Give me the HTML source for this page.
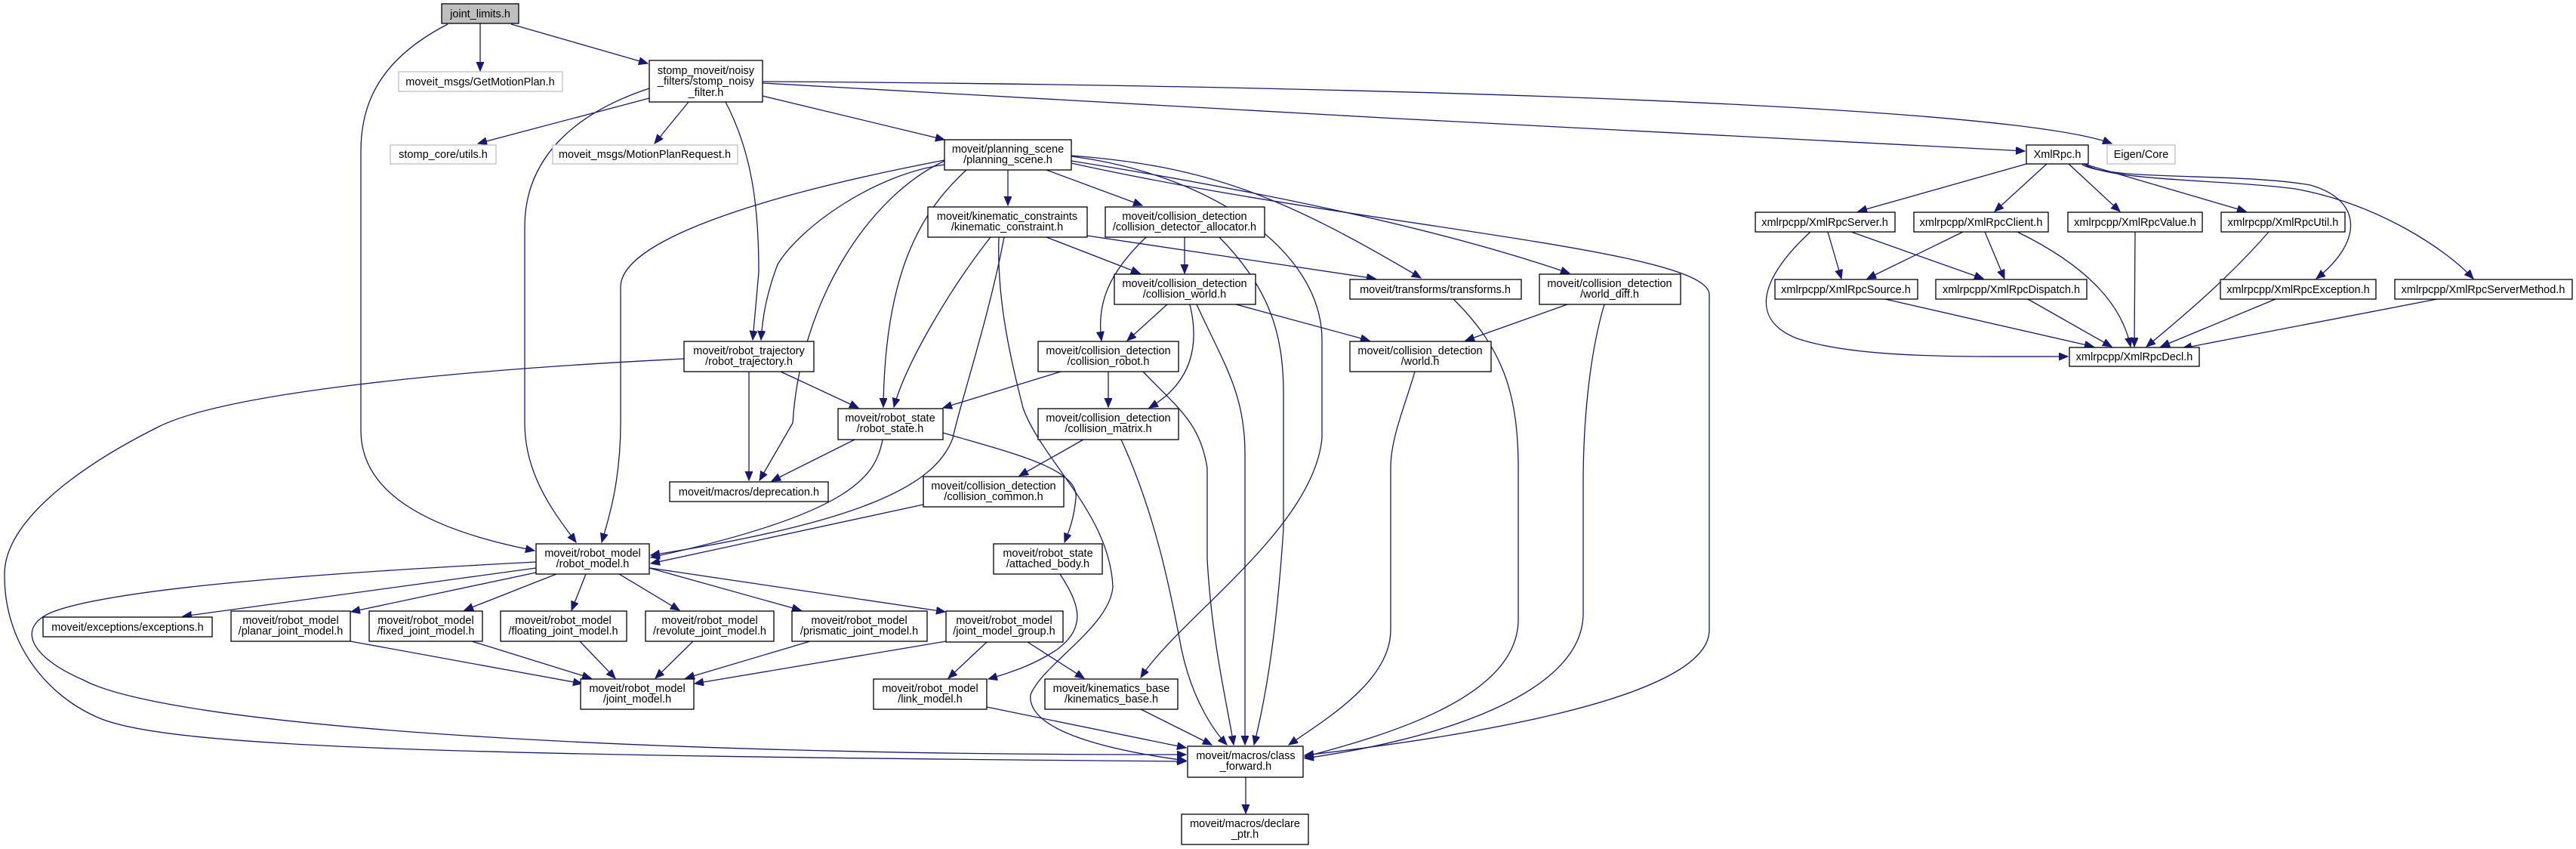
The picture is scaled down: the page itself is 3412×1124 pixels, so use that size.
<!DOCTYPE html>
<html><head><meta charset="utf-8"><style>
html,body{margin:0;padding:0;background:#fff;}
svg{display:block;}
text{font-family:"Liberation Sans",sans-serif;font-size:14.5px;fill:#000;text-anchor:middle;}
.e{fill:none;stroke:#191970;stroke-width:1.3;marker-end:url(#a);}
.n{fill:#fff;stroke:#000;stroke-width:1.3;}
.g{fill:#fff;stroke:#bfbfbf;stroke-width:1.3;}
</style></head><body>
<svg width="3412" height="1124" viewBox="0 0 3412 1124" xmlns="http://www.w3.org/2000/svg">
<defs><marker id="a" markerUnits="userSpaceOnUse" markerWidth="14" markerHeight="12" refX="12" refY="5" orient="auto"><path d="M0,0 L12,5 L0,10 Z" fill="#191970" stroke="#191970"/></marker></defs>
<g>
<path class="e" d="M636,31 L636,94"/>
<path class="e" d="M677,32 L858,84"/>
<path class="e" d="M593,32 C500,80 478,140 478,200 L478,570 C478,650 560,700 708,729"/>
<path class="e" d="M860,130 L633,190"/>
<path class="e" d="M912,135 L867,190"/>
<path class="e" d="M961,135 C995,200 1005,270 1005,360 L997,450"/>
<path class="e" d="M860,117 C760,150 695,210 695,300 L695,560 C695,630 735,680 763,718"/>
<path class="e" d="M1010,127 L1251,185"/>
<path class="e" d="M1010,110 C1400,135 2300,180 2682,200"/>
<path class="e" d="M1010,108 C1700,112 2650,135 2797,190"/>
<path class="e" d="M1335,225 L1335,272"/>
<path class="e" d="M1386,225 L1513,272"/>
<path class="e" d="M1419,206 C1600,220 1700,260 1882,368"/>
<path class="e" d="M1419,213 C1650,250 1900,300 2079,362"/>
<path class="e" d="M1419,216 C1800,300 2264,330 2264,390 L2264,834 C2264,930 1900,980 1728,1000"/>
<path class="e" d="M1419,207 C1600,230 1751,330 1751,450 L1751,580 C1740,700 1560,820 1511,897"/>
<path class="e" d="M1251,218 C1160,230 1060,300 1030,350 C1015,390 1010,420 1008,450"/>
<path class="e" d="M1251,212 C1000,260 822,320 822,380 L822,560 C822,640 805,690 797,718"/>
<path class="e" d="M1280,225 C1220,280 1172,360 1170,539"/>
<path class="e" d="M1251,213 C1150,260 1060,400 1050,560 L1006,636"/>
<path class="e" d="M1312,314 C1260,380 1200,480 1184,539"/>
<path class="e" d="M1330,314 C1310,420 1270,540 1262,580 C1240,640 1150,690 862,735"/>
<path class="e" d="M1323,314 C1320,400 1340,480 1355,540 C1380,610 1470,680 1474,777 C1470,830 1380,880 1365,920 C1360,970 1480,995 1571,1007"/>
<path class="e" d="M1386,314 L1510,362"/>
<path class="e" d="M1440,312 L1822,369"/>
<path class="e" d="M1569,314 L1569,362"/>
<path class="e" d="M1518,314 C1470,360 1452,400 1459,451"/>
<path class="e" d="M1615,314 C1680,380 1700,440 1700,520 L1700,700 C1690,850 1675,930 1661,986"/>
<path class="e" d="M1546,403 L1493,451"/>
<path class="e" d="M1576,403 C1585,440 1590,500 1522,540"/>
<path class="e" d="M1637,403 L1814,451"/>
<path class="e" d="M1585,403 C1620,480 1649,520 1649,600 L1649,986"/>
<path class="e" d="M1405,492 L1249,540"/>
<path class="e" d="M1468,492 L1468,539"/>
<path class="e" d="M1514,492 C1560,540 1590,560 1599,620 L1599,740 C1605,850 1625,930 1634,986"/>
<path class="e" d="M1435,582 L1350,630"/>
<path class="e" d="M1485,582 C1530,680 1550,780 1565,860 C1580,930 1610,970 1625,986"/>
<path class="e" d="M2076,403 L1941,451"/>
<path class="e" d="M2125,403 C2105,470 2097,560 2097,640 L2097,812 C2097,920 1900,980 1728,1004"/>
<path class="e" d="M1925,396 C1990,460 2011,520 2011,620 L2011,820 C2011,920 1850,970 1728,1002"/>
<path class="e" d="M1874,492 C1860,540 1842,580 1842,620 L1842,834 C1842,900 1760,950 1707,986"/>
<path class="e" d="M1034,492 L1137,540"/>
<path class="e" d="M992,492 L992,636"/>
<path class="e" d="M906,475 C600,490 300,520 210,565 C80,630 6,700 6,760 C5,850 60,920 130,950 C220,990 600,1000 1571,1008"/>
<path class="e" d="M1132,582 L1022,637"/>
<path class="e" d="M1169,582 C1160,630 1130,680 862,738"/>
<path class="e" d="M1249,573 C1340,600 1430,620 1425,660 C1422,690 1415,705 1410,718"/>
<path class="e" d="M1223,668 L862,746"/>
<path class="e" d="M1404,760 C1430,800 1440,830 1400,860 C1370,880 1340,890 1309,899"/>
<path class="e" d="M710,752 L242,816"/>
<path class="e" d="M710,758 L465,810"/>
<path class="e" d="M737,760 L615,808"/>
<path class="e" d="M776,760 L757,808"/>
<path class="e" d="M820,760 L900,808"/>
<path class="e" d="M860,752 L1061,808"/>
<path class="e" d="M861,752 L1252,810"/>
<path class="e" d="M710,744 C400,760 150,780 70,810 C20,830 40,870 110,900 C220,960 800,1000 1571,999"/>
<path class="e" d="M464,849 L771,905"/>
<path class="e" d="M625,849 L783,898"/>
<path class="e" d="M768,849 L815,898"/>
<path class="e" d="M918,849 L868,898"/>
<path class="e" d="M1073,849 L908,898"/>
<path class="e" d="M1253,849 L920,905"/>
<path class="e" d="M1307,850 L1256,898"/>
<path class="e" d="M1361,850 L1436,898"/>
<path class="e" d="M1307,936 L1571,990"/>
<path class="e" d="M1511,939 L1605,986"/>
<path class="e" d="M1650,1029 L1650,1077"/>
<path class="e" d="M2684,217 L2461,280"/>
<path class="e" d="M2711,217 L2642,280"/>
<path class="e" d="M2740,217 L2808,280"/>
<path class="e" d="M2760,217 L2975,280"/>
<path class="e" d="M2758,218 C2800,240 2960,228 3060,245 C3130,265 3130,320 3068,369"/>
<path class="e" d="M2762,218 C2800,240 2950,238 3040,250 C3150,270 3240,330 3276,369"/>
<path class="e" d="M2421,307 L2439,369"/>
<path class="e" d="M2452,307 L2627,369"/>
<path class="e" d="M2398,307 C2340,360 2310,420 2380,448 C2460,475 2600,472 2739,472"/>
<path class="e" d="M2600,307 L2473,369"/>
<path class="e" d="M2629,307 L2655,369"/>
<path class="e" d="M2672,307 C2760,350 2810,400 2822,459"/>
<path class="e" d="M2828,307 L2827,459"/>
<path class="e" d="M3005,307 C2950,370 2890,420 2843,459"/>
<path class="e" d="M2497,396 L2773,459"/>
<path class="e" d="M2686,396 L2797,459"/>
<path class="e" d="M3014,396 L2862,459"/>
<path class="e" d="M3228,396 L2891,461"/>
</g>
<g>
<rect x="585" y="5" width="102" height="26" fill="#bfbfbf" stroke="#000" stroke-width="1.3"/><text x="636" y="23">joint_limits.h</text>
<rect class="g" x="528" y="95" width="217" height="26"/><text x="636" y="113">moveit_msgs/GetMotionPlan.h</text>
<rect class="n" x="860" y="80" width="150" height="55"/><text x="935" y="98">stomp_moveit/noisy</text><text x="935" y="112">_filters/stomp_noisy</text><text x="935" y="127">_filter.h</text>
<rect class="g" x="517" y="192" width="140" height="25"/><text x="587" y="209">stomp_core/utils.h</text>
<rect class="g" x="732" y="192" width="245" height="25"/><text x="854" y="209">moveit_msgs/MotionPlanRequest.h</text>
<rect class="n" x="906" y="452" width="172" height="40"/><text x="992" y="469">moveit/robot_trajectory</text><text x="992" y="483">/robot_trajectory.h</text>
<rect class="n" x="887" y="638" width="210" height="26"/><text x="992" y="656">moveit/macros/deprecation.h</text>
<rect class="n" x="710" y="720" width="150" height="40"/><text x="785" y="737">moveit/robot_model</text><text x="785" y="751">/robot_model.h</text>
<rect class="n" x="57" y="817" width="224" height="26"/><text x="169" y="835">moveit/exceptions/exceptions.h</text>
<rect class="n" x="306" y="809" width="158" height="40"/><text x="385" y="826">moveit/robot_model</text><text x="385" y="840">/planar_joint_model.h</text>
<rect class="n" x="489" y="809" width="150" height="40"/><text x="564" y="826">moveit/robot_model</text><text x="564" y="840">/fixed_joint_model.h</text>
<rect class="n" x="663" y="809" width="167" height="40"/><text x="746" y="826">moveit/robot_model</text><text x="746" y="840">/floating_joint_model.h</text>
<rect class="n" x="855" y="809" width="170" height="40"/><text x="940" y="826">moveit/robot_model</text><text x="940" y="840">/revolute_joint_model.h</text>
<rect class="n" x="1049" y="809" width="179" height="40"/><text x="1138" y="826">moveit/robot_model</text><text x="1138" y="840">/prismatic_joint_model.h</text>
<rect class="n" x="769" y="899" width="150" height="40"/><text x="844" y="916">moveit/robot_model</text><text x="844" y="930">/joint_model.h</text>
<rect class="n" x="1251" y="185" width="168" height="40"/><text x="1335" y="202">moveit/planning_scene</text><text x="1335" y="216">/planning_scene.h</text>
<rect class="n" x="1229" y="274" width="211" height="40"/><text x="1334" y="291">moveit/kinematic_constraints</text><text x="1334" y="305">/kinematic_constraint.h</text>
<rect class="n" x="1464" y="274" width="211" height="40"/><text x="1569" y="291">moveit/collision_detection</text><text x="1569" y="305">/collision_detector_allocator.h</text>
<rect class="n" x="1476" y="363" width="187" height="40"/><text x="1569" y="380">moveit/collision_detection</text><text x="1569" y="394">/collision_world.h</text>
<rect class="n" x="1788" y="370" width="227" height="26"/><text x="1901" y="388">moveit/transforms/transforms.h</text>
<rect class="n" x="2039" y="363" width="187" height="40"/><text x="2132" y="380">moveit/collision_detection</text><text x="2132" y="394">/world_diff.h</text>
<rect class="n" x="1375" y="452" width="186" height="40"/><text x="1468" y="469">moveit/collision_detection</text><text x="1468" y="483">/collision_robot.h</text>
<rect class="n" x="1788" y="452" width="187" height="40"/><text x="1881" y="469">moveit/collision_detection</text><text x="1881" y="483">/world.h</text>
<rect class="n" x="1110" y="541" width="139" height="41"/><text x="1179" y="558">moveit/robot_state</text><text x="1179" y="572">/robot_state.h</text>
<rect class="n" x="1375" y="541" width="186" height="41"/><text x="1468" y="558">moveit/collision_detection</text><text x="1468" y="572">/collision_matrix.h</text>
<rect class="n" x="1223" y="631" width="186" height="40"/><text x="1316" y="648">moveit/collision_detection</text><text x="1316" y="662">/collision_common.h</text>
<rect class="n" x="1316" y="720" width="144" height="40"/><text x="1388" y="737">moveit/robot_state</text><text x="1388" y="751">/attached_body.h</text>
<rect class="n" x="1253" y="809" width="155" height="41"/><text x="1330" y="826">moveit/robot_model</text><text x="1330" y="840">/joint_model_group.h</text>
<rect class="n" x="1157" y="899" width="150" height="40"/><text x="1232" y="916">moveit/robot_model</text><text x="1232" y="930">/link_model.h</text>
<rect class="n" x="1384" y="899" width="176" height="40"/><text x="1472" y="916">moveit/kinematics_base</text><text x="1472" y="930">/kinematics_base.h</text>
<rect class="n" x="1573" y="988" width="153" height="41"/><text x="1650" y="1005">moveit/macros/class</text><text x="1650" y="1019">_forward.h</text>
<rect class="n" x="1565" y="1078" width="168" height="40"/><text x="1649" y="1095">moveit/macros/declare</text><text x="1649" y="1109">_ptr.h</text>
<rect class="n" x="2684" y="192" width="82" height="25"/><text x="2725" y="209">XmlRpc.h</text>
<rect class="g" x="2791" y="192" width="90" height="25"/><text x="2836" y="209">Eigen/Core</text>
<rect class="n" x="2325" y="281" width="185" height="26"/><text x="2417" y="299">xmlrpcpp/XmlRpcServer.h</text>
<rect class="n" x="2535" y="281" width="178" height="26"/><text x="2624" y="299">xmlrpcpp/XmlRpcClient.h</text>
<rect class="n" x="2739" y="281" width="178" height="26"/><text x="2828" y="299">xmlrpcpp/XmlRpcValue.h</text>
<rect class="n" x="2942" y="281" width="164" height="26"/><text x="3024" y="299">xmlrpcpp/XmlRpcUtil.h</text>
<rect class="n" x="2351" y="370" width="189" height="26"/><text x="2445" y="388">xmlrpcpp/XmlRpcSource.h</text>
<rect class="n" x="2564" y="370" width="200" height="26"/><text x="2664" y="388">xmlrpcpp/XmlRpcDispatch.h</text>
<rect class="n" x="2941" y="370" width="206" height="26"/><text x="3044" y="388">xmlrpcpp/XmlRpcException.h</text>
<rect class="n" x="3172" y="370" width="235" height="26"/><text x="3289" y="388">xmlrpcpp/XmlRpcServerMethod.h</text>
<rect class="n" x="2741" y="460" width="172" height="25"/><text x="2827" y="477">xmlrpcpp/XmlRpcDecl.h</text>
</g>
</svg>
</body></html>
